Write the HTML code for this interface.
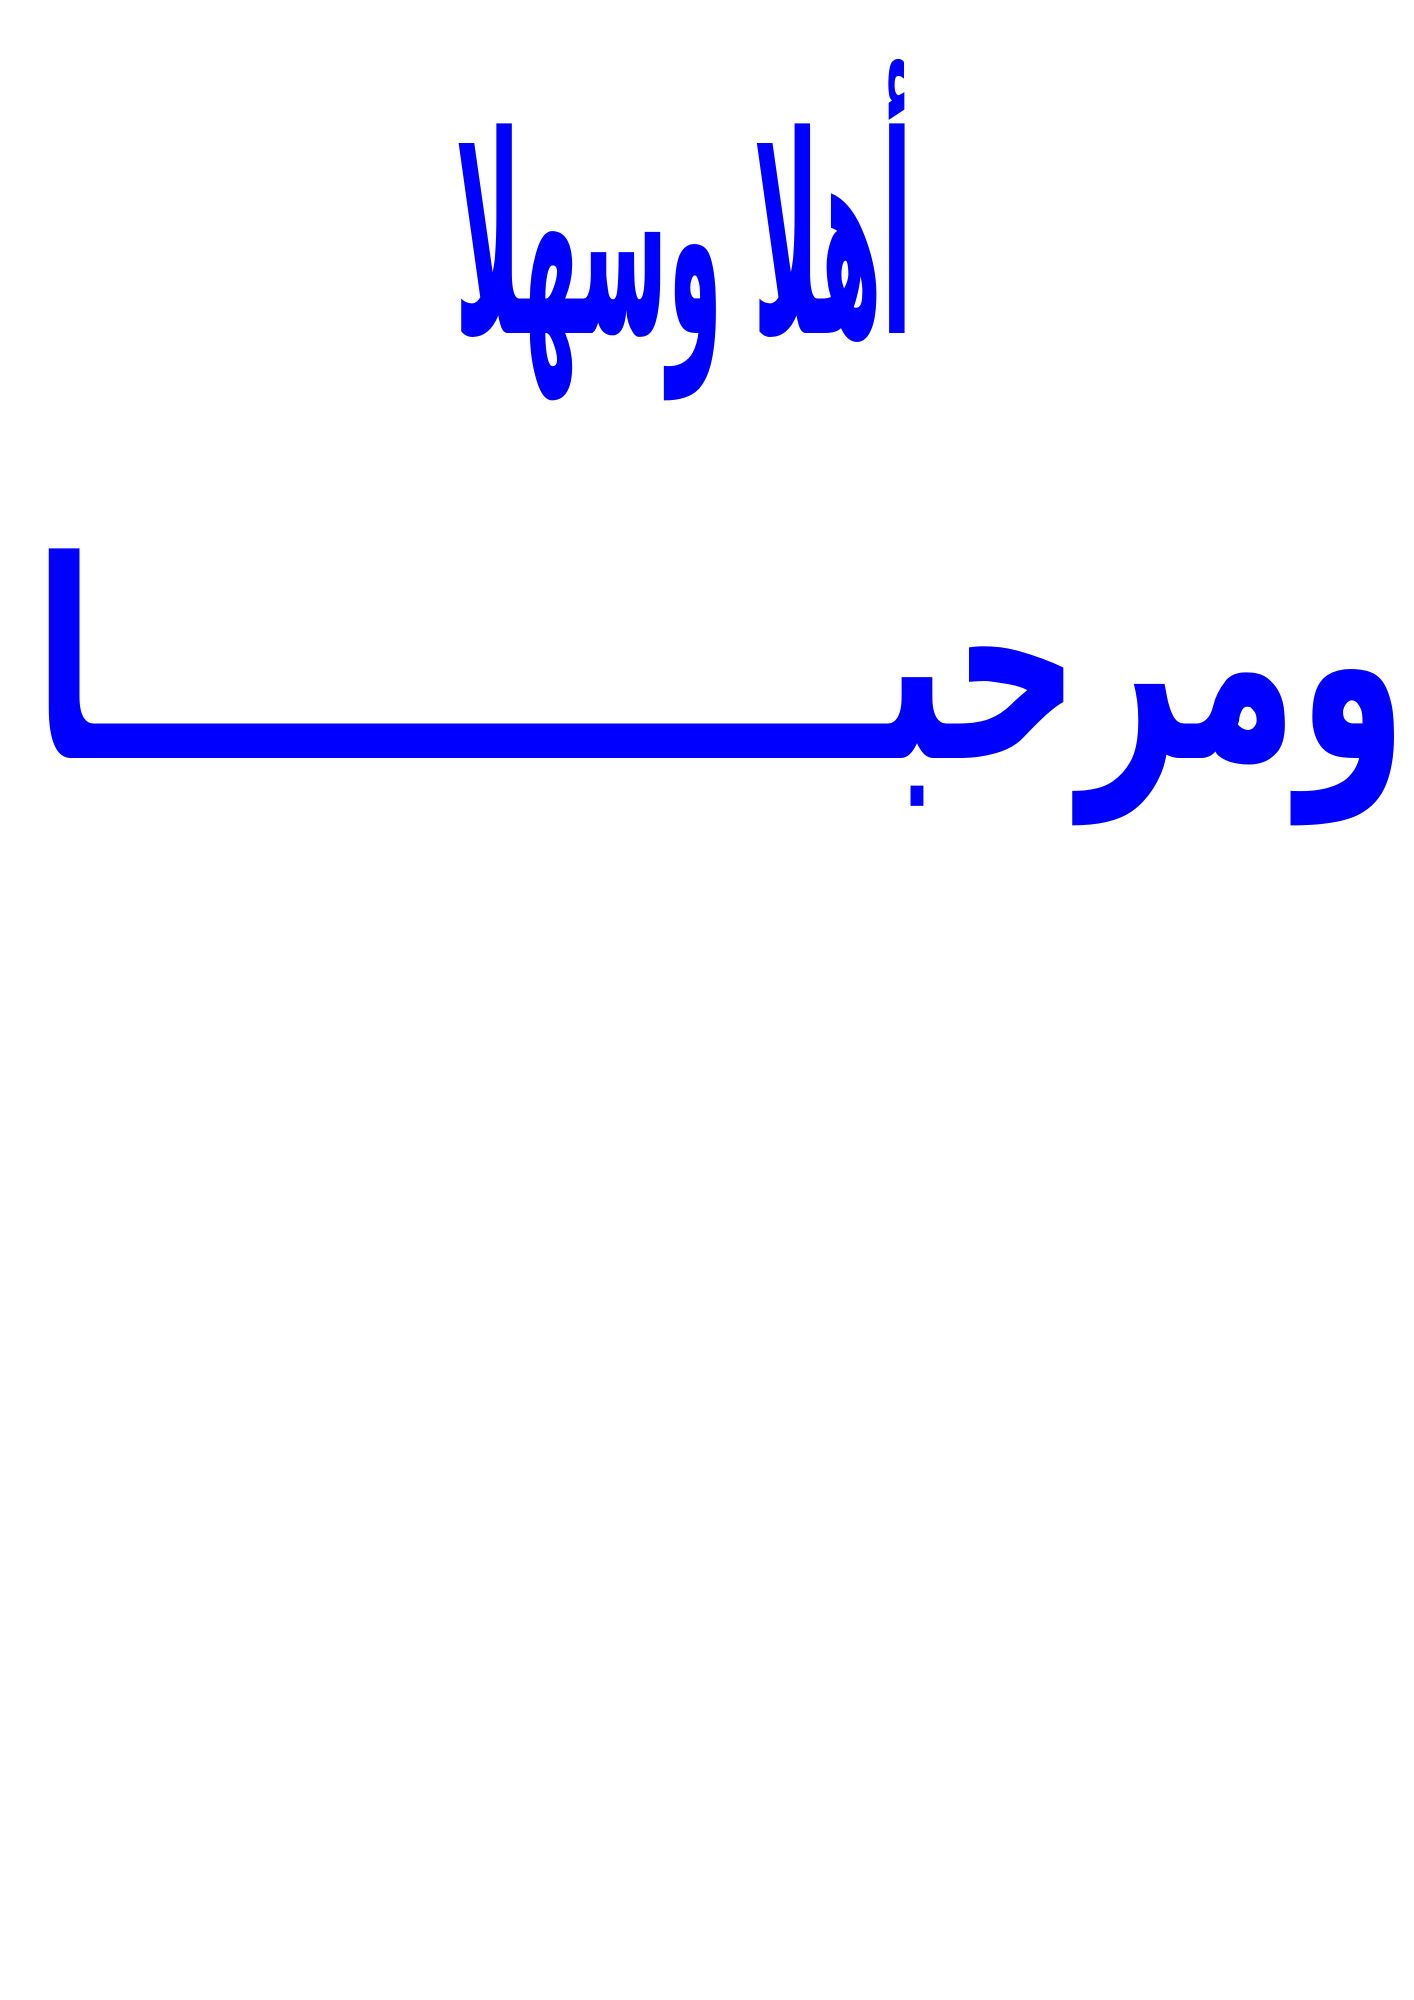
<!DOCTYPE html>
<html><head><meta charset="utf-8"><style>
html,body{margin:0;padding:0;background:#fff;}
svg{display:block;}
text{font-family:"DejaVu Sans",sans-serif;font-weight:bold;fill:#0000ff;}
</style></head><body>
<svg width="1414" height="2000" viewBox="0 0 1414 2000" xmlns="http://www.w3.org/2000/svg">
<rect width="1414" height="2000" fill="#fff"/>
<g transform="translate(683.5,333) scale(1,2.3)">
<text x="0" y="0" font-size="120" text-anchor="middle" textLength="457" lengthAdjust="spacingAndGlyphs">أهلا وسهلا</text>
</g>
<g transform="translate(720.5,758) scale(1,2.3)">
<text x="0" y="0" font-size="120" text-anchor="middle" textLength="1373" lengthAdjust="spacingAndGlyphs">ومرحبـــــــــــــا</text>
</g>
</svg>
</body></html>
